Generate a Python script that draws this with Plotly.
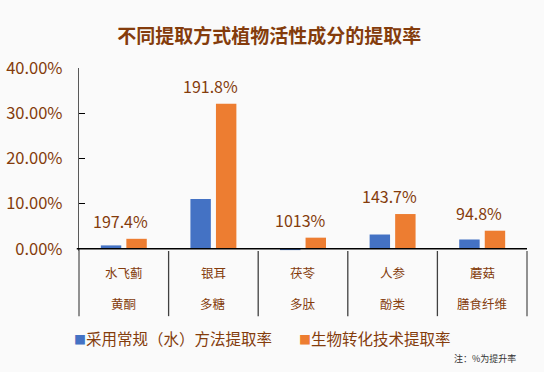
import plotly.graph_objects as go

categories = ["水飞蓟黄酮", "银耳多糖", "茯苓多肽", "人参酚类", "蘑菇膳食纤维"]
label_line1 = ["水飞蓟", "银耳", "茯苓", "人参", "蘑菇"]
label_line2 = ["黄酮", "多糖", "多肽", "酚类", "膳食纤维"]
conventional = [0.74, 11.0, -0.3, 3.15, 2.05]
biotrans = [2.2, 32.1, 2.45, 7.68, 3.99]
increase_labels = ["197.4%", "191.8%", "1013%", "143.7%", "94.8%"]
series_names = ["采用常规（水）方法提取率", "生物转化技术提取率"]
series_colors = ["#4472C4", "#ED7D31"]
y_ticks = [0, 10, 20, 30, 40]
y_tick_text = ["0.00%", "10.00%", "20.00%", "30.00%", "40.00%"]

BROWN = "#843C0C"
FONT = "Noto Sans CJK SC, Noto Sans, sans-serif"

fig = go.Figure()
for vals, name, col in zip([conventional, biotrans], series_names, series_colors):
    fig.add_trace(go.Bar(x=categories, y=vals, name=name, showlegend=False,
                         marker=dict(color=col, line=dict(width=0))))

annotations = []
for c, v, t in zip(categories, biotrans, increase_labels):
    annotations.append(dict(x=c, y=v, xref="x", yref="y", text=t, showarrow=False,
                            xshift=-3, yshift=18, font=dict(size=16, color=BROWN, family=FONT)))
for c, l1, l2 in zip(categories, label_line1, label_line2):
    annotations.append(dict(x=c, y=0, xref="x", yref="y", text=l1, showarrow=False,
                            yshift=-24, font=dict(size=12.5, color=BROWN, family=FONT)))
    annotations.append(dict(x=c, y=0, xref="x", yref="y", text=l2, showarrow=False,
                            yshift=-55, font=dict(size=12.5, color=BROWN, family=FONT)))

# legend built as text entries (square swatch + series name)
legend_x = [-0.015, 0.487]
for lx, name, col in zip(legend_x, series_names, series_colors):
    annotations.append(dict(x=lx, y=-0.474, xref="paper", yref="paper",
                            text=f"<span style='color:{col};font-size:12px'>■</span>{name}",
                            showarrow=False, xanchor="left", yanchor="middle",
                            font=dict(size=15.5, color=BROWN, family=FONT)))

annotations.append(dict(x=0.98, y=-0.589, xref="paper", yref="paper", text="注：%为提升率",
                        showarrow=False, xanchor="right", yanchor="middle",
                        font=dict(size=9, color="#333333", family=FONT)))

shapes = []
n = len(categories)
for i in range(n + 1):
    shapes.append(dict(type="line", xref="x domain", yref="paper", x0=i / n, x1=i / n,
                       y0=-0.356, y1=0.012 if i == 0 else 0.0,
                       line=dict(color="#595959" if i in (0, n) else "#404040", width=1.3)))
shapes.append(dict(type="line", xref="x domain", yref="y", x0=-0.005, x1=1, y0=0, y1=0,
                   line=dict(color="#000000", width=1.5)))

fig.update_layout(
    width=544, height=372,
    paper_bgcolor="#FAFAFA", plot_bgcolor="#FAFAFA",
    margin=dict(l=79, r=17, t=68, b=121, autoexpand=False),
    barmode="group", bargap=0.43, bargroupgap=0.2,
    font=dict(family=FONT, color=BROWN),
    showlegend=False,
    title=dict(text="<b>不同提取方式植物活性成分的提取率</b>", x=0.495, xref="container",
               xanchor="center", y=1 - 36 / 372, yanchor="middle",
               font=dict(size=19, color=BROWN, family=FONT)),
    xaxis=dict(showticklabels=False, showgrid=False, zeroline=False, showline=False,
               ticks="", range=[-0.5, n - 0.5]),
    yaxis=dict(range=[-0.5, 40], tickvals=y_ticks, ticktext=y_tick_text,
               showgrid=False, zeroline=False, showline=True, linecolor="#595959", linewidth=1.3,
               ticks="inside", ticklen=6, tickcolor="#000000", tickwidth=1,
               ticklabelstandoff=12,
               tickfont=dict(size=16.5, color=BROWN, family=FONT)),
    annotations=annotations, shapes=shapes,
)

fig.write_html("out.html", config={"displayModeBar": False},
               post_script="document.body.style.margin='0px';")
